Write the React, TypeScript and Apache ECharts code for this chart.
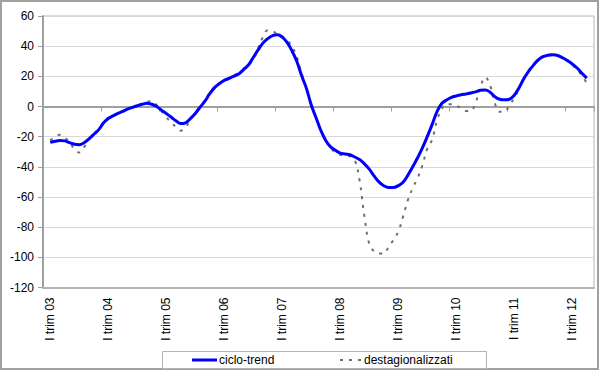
import React, { useEffect, useRef } from "react";
import * as echarts from "echarts";

// Years covered (monthly data, Jan 2003 – Jun 2012)
const YEARS = ["03", "04", "05", "06", "07", "08", "09", "10", "11", "12"];
const MONTHS = ["gen", "feb", "mar", "apr", "mag", "giu", "lug", "ago", "set", "ott", "nov", "dic"];
const YEAR_LABELS = ["I trim 03", "I trim 04", "I trim 05", "I trim 06", "I trim 07", "I trim 08", "I trim 09", "I trim 10", "I trim 11", "I trim 12"];
const Y_TICKS = [-120, -100, -80, -60, -40, -20, 0, 20, 40, 60];
const SERIES_NAMES = ["ciclo-trend", "destagionalizzati"];

const CATEGORIES: string[] = [];
YEARS.forEach((y, yi) => {
  MONTHS.forEach((m, mi) => {
    if (yi === YEARS.length - 1 && mi > 5) return;
    CATEGORIES.push(m + " " + y);
  });
});

const cicloTrend = [
  null,
  -23.8, -23, -22.5, -22.8, -24, -25, -25.3, -24, -21.5, -18.5, -15.5,
  -11, -8, -6.2, -4.6, -3.2, -1.8, -0.6, 0.5, 1.5, 2.2, 1.5, 0,
  -2.4, -4.6, -7, -9.5, -11.3, -10.8, -8, -4.6, -0.5, 3.5, 8.5, 12.5,
  15.2, 17.3, 18.6, 20.2, 21.6, 24.5, 27.5, 32.5, 37.5, 42, 45, 47,
  47.5, 46, 42.5, 37, 30, 20.5, 12, 1, -7.5, -16, -22.5, -26.8,
  -29, -30.9, -31.5, -32, -33.5, -35.2, -38, -41.5, -46, -50, -52.5, -53.7,
  -53.7, -52.5, -50.2, -45.5, -40, -34, -27.5, -20, -12, -3.5, 2, 4.3,
  6, 7, 7.8, 8.3, 8.9, 9.7, 10.8, 11, 9.5, 6.5, 4.8, 4.4,
  4.8, 7.5, 12.5, 18.5, 23.5, 27.5, 31, 33, 34, 34.3, 33.8, 32.3,
  30.5, 28.2, 25.5, 22, 18.8, null,
];

const destagionalizzati = [
  null,
  -22.5, -20, -18.8, -20.5, -24, -28, -30.5, -27, -22, -18, -15,
  -11, -7.5, -6, -4.5, -3, -1.5, -0.5, 0.5, 1.8, 3, 3.5, 1,
  -3, -7, -10.5, -13.5, -16, -14, -8.5, -4, 0, 4, 9, 13,
  15.5, 17, 19, 20.5, 22.5, 25, 27.5, 31, 38.5, 46, 50.5, 50,
  48, 46.5, 44, 40, 33, 22, 12, 1, -8, -16.5, -22.5, -27.5,
  -30.5, -32, -32.5, -33, -35.5, -49, -73, -91, -96, -97.5, -97.5, -93,
  -88.5, -83, -73, -62, -54, -47.5, -39, -28, -22, -9.5, -1.5, 1.5,
  1.5, 0.5, -1, -3, -3, 2.5, 13, 19.5, 14, 2, -3.5, -3.5,
  1, 5.5, 12, 19, 24, 28, 31.5, 33.5, 34.5, 34.5, 33.5, 32,
  30, 27.5, 24.5, 20.5, 15.5, null,
];

const FONT = "'Liberation Sans', Arial, sans-serif";
const BLUE = "#0000ff";
const GRAY = "#6e6e6e";

export default function App() {
  const ref = useRef<HTMLDivElement>(null);

  useEffect(() => {
    document.body.style.margin = "0";
    if (!ref.current) return;
    const chart = echarts.init(ref.current, null, { renderer: "svg" });
    chart.setOption({
      animation: false,
      backgroundColor: "#ffffff",
      textStyle: { fontFamily: FONT },
      grid: {
        left: 43,
        right: 6,
        top: 16,
        bottom: 84.5,
        show: true,
        borderColor: "#b4b4b4",
        borderWidth: 1,
        containLabel: false,
      },
      legend: { show: false },
      graphic: [
        {
          type: "rect",
          shape: { x: 1, y: 1, width: 597, height: 368 },
          style: { fill: "none", stroke: "#a0a0a0", lineWidth: 2 },
          silent: true,
        },
        {
          type: "rect",
          shape: { x: 162.5, y: 351.5, width: 324, height: 17 },
          style: { fill: "#fff", stroke: "#b4b4b4", lineWidth: 1 },
          silent: true,
        },
        {
          type: "line",
          shape: { x1: 192, y1: 360, x2: 217, y2: 360 },
          style: { stroke: BLUE, lineWidth: 3 },
          silent: true,
        },
        {
          type: "text",
          x: 219,
          y: 360,
          style: { text: SERIES_NAMES[0], font: "12px " + FONT, fill: "#000", verticalAlign: "middle", align: "left" },
          silent: true,
        },
        {
          type: "line",
          shape: { x1: 340, y1: 360, x2: 362, y2: 360 },
          style: { stroke: GRAY, lineWidth: 2, lineDash: [3, 6] },
          silent: true,
        },
        {
          type: "text",
          x: 364,
          y: 360,
          style: { text: SERIES_NAMES[1], font: "12px " + FONT, fill: "#000", verticalAlign: "middle", align: "left" },
          silent: true,
        },
      ],
      xAxis: [
        {
          type: "category",
          data: CATEGORIES,
          position: "bottom",
          boundaryGap: true,
          axisLine: { onZero: false, lineStyle: { color: "#b4b4b4", width: 2 } },
          axisTick: { show: false },
          splitLine: { show: false },
          axisLabel: {
            interval: (i: number) => i % 12 === 1,
            formatter: (_v: string, i: number) => YEAR_LABELS[Math.floor(i / 12)],
            rotate: 90,
            margin: 10,
            fontSize: 12,
            color: "#000",
            fontFamily: FONT,
            padding: [4, 0, 0, 0],
          },
        },
        {
          type: "category",
          data: CATEGORIES,
          position: "bottom",
          boundaryGap: true,
          axisLine: { show: true, onZero: true, lineStyle: { color: "#a0a0a0", width: 2 } },
          axisTick: {
            show: true,
            interval: (i: number) => i % 12 === 0,
            length: 5,
            lineStyle: { color: "#a0a0a0", width: 1 },
          },
          axisLabel: { show: false },
          splitLine: { show: false },
        },
      ],
      yAxis: {
        type: "value",
        min: Y_TICKS[0],
        max: Y_TICKS[Y_TICKS.length - 1],
        interval: 20,
        axisLine: { show: true, lineStyle: { color: "#a0a0a0", width: 2 } },
        axisTick: { show: true, length: 5, lineStyle: { color: "#a0a0a0" } },
        splitLine: { lineStyle: { color: "#d9d9d9", width: 1 } },
        axisLabel: { fontSize: 12, color: "#000", margin: 9, fontFamily: FONT },
      },
      series: [
        {
          name: SERIES_NAMES[0],
          type: "line",
          data: cicloTrend,
          xAxisIndex: 0,
          smooth: 0.4,
          symbol: "none",
          z: 3,
          lineStyle: { color: BLUE, width: 3 },
          itemStyle: { color: BLUE },
        },
        {
          name: SERIES_NAMES[1],
          type: "line",
          data: destagionalizzati,
          xAxisIndex: 0,
          smooth: 0.4,
          symbol: "none",
          z: 2,
          lineStyle: { color: GRAY, width: 2, type: [3, 6] },
          itemStyle: { color: GRAY },
        },
      ],
    });
    return () => chart.dispose();
  }, []);

  return <div ref={ref} style={{ width: 600, height: 372 }} />;
}
